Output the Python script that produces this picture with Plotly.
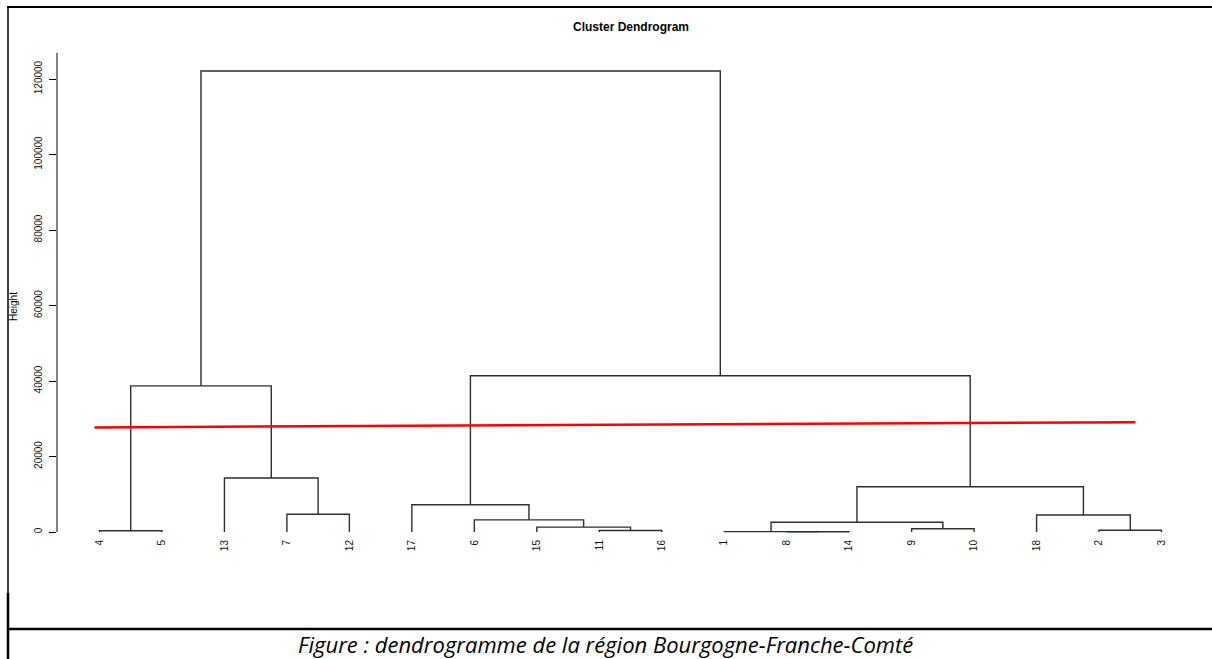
import plotly.graph_objects as go

# ---- data ----
leaf_labels = ["4", "5", "13", "7", "12", "17", "6", "15", "11", "16",
               "1", "8", "14", "9", "10", "18", "2", "3"]
# merges: (left child, right child, height); strings = leaves, ints = earlier merge index
merges = [
    ("4", "5", 350),        # 0
    ("7", "12", 4700),      # 1
    ("13", 1, 14300),       # 2
    (0, 2, 38700),          # 3
    ("11", "16", 400),      # 4
    ("15", 4, 1300),        # 5
    ("6", 5, 3200),         # 6
    ("17", 6, 7200),        # 7
    ("8", "14", 50),        # 8
    ("1", 8, 100),          # 9
    ("9", "10", 870),       # 10
    (9, 10, 2570),          # 11
    ("2", "3", 450),        # 12
    ("18", 12, 4500),       # 13
    (11, 13, 12000),        # 14
    (7, 14, 41400),         # 15
    (3, 15, 122100),        # 16
]
cut_line_x = [0.92, 17.58]
cut_line_y = [27700, 29100]
y_ticks = [0, 20000, 40000, 60000, 80000, 100000, 120000]

# ---- geometry from data ----
leaf_pos = {lab: i + 1 for i, lab in enumerate(leaf_labels)}
node_x, node_h = {}, {}


def child_info(c):
    if isinstance(c, str):
        return leaf_pos[c], 0.0
    return node_x[c], node_h[c]


seg_x, seg_y = [], []
for idx, (a, b, h) in enumerate(merges):
    xa, ha = child_info(a)
    xb, hb = child_info(b)
    seg_x += [xa, xa, xb, xb, None]
    seg_y += [ha, h, h, hb, None]
    node_x[idx] = (xa + xb) / 2
    node_h[idx] = h

W, H = 1212, 659
L_, R_, T_, B_ = 57, 8, 53, 122
plot_w = W - L_ - R_
plot_h = H - T_ - B_
px_per_unit = 453 / 120000
y_max = (532 - T_) / px_per_unit
y_min = -((H - B_) - 532) / px_per_unit


def px2paper_x(px):
    return (px - L_) / plot_w


def px2paper_y(py):
    return ((H - B_) - py) / plot_h


fig = go.Figure()
fig.add_trace(go.Scatter(x=seg_x, y=seg_y, mode="lines",
                         line=dict(color="#2e2e2e", width=1.4),
                         hoverinfo="skip", showlegend=False))
fig.add_trace(go.Scatter(x=cut_line_x, y=cut_line_y, mode="lines",
                         line=dict(color="#ff0000", width=2.5),
                         hoverinfo="skip", showlegend=False))

fig.update_layout(
    width=W, height=H,
    margin=dict(l=L_, r=R_, t=T_, b=B_, pad=0),
    paper_bgcolor="white", plot_bgcolor="white",
    font=dict(family="Liberation Sans, Arial, sans-serif", color="black", size=10),
    xaxis=dict(range=[0.32, 18.68], tickmode="array",
               tickvals=[leaf_pos[l] for l in leaf_labels], ticktext=leaf_labels,
               tickangle=-90, ticks="", showgrid=False, zeroline=False,
               showline=False, tickfont=dict(size=10, color="#111111")),
    yaxis=dict(range=[y_min, y_max], tickmode="array", tickvals=y_ticks,
               ticktext=[str(v) for v in y_ticks], tickangle=-90,
               ticks="outside", ticklen=7, tickcolor="black", tickwidth=1,
               ticklabelstandoff=3,
               showgrid=False, zeroline=False, showline=False,
               tickfont=dict(size=10, color="#111111")),
    showlegend=False,
)

# y axis line (from 0 to top)
fig.add_shape(type="line", xref="paper", yref="y", x0=0, x1=0, y0=0, y1=y_max,
              line=dict(color="black", width=1))

# frame lines
frame = [
    (7, 7, 1212, 7, 2),
    (8, 7, 8, 593, 1.5),
    (8, 593, 8, 659, 2.5),
    (8, 629, 1212, 629, 2.5),
]
for x0, y0, x1, y1, w in frame:
    fig.add_shape(type="line", xref="paper", yref="paper",
                  x0=px2paper_x(x0), y0=px2paper_y(y0),
                  x1=px2paper_x(x1), y1=px2paper_y(y1),
                  line=dict(color="black", width=w))

fig.add_annotation(text="<b>Cluster Dendrogram</b>", xref="paper", yref="paper",
                   x=px2paper_x(630.5), y=px2paper_y(27), showarrow=False,
                   xanchor="center", yanchor="middle",
                   font=dict(size=12, family="Liberation Sans, Arial, sans-serif"))
fig.add_annotation(text="Height", xref="paper", yref="paper",
                   x=px2paper_x(13), y=px2paper_y(306), showarrow=False,
                   textangle=-90, xanchor="center", yanchor="middle",
                   font=dict(size=10, family="Liberation Sans, Arial, sans-serif"))
fig.add_annotation(text="<i>Figure : dendrogramme de la région Bourgogne-Franche-Comté</i>",
                   xref="paper", yref="paper",
                   x=px2paper_x(605), y=px2paper_y(644), showarrow=False,
                   xanchor="center", yanchor="middle",
                   font=dict(size=22, family="Open Sans, sans-serif", color="black"))

fig.write_html("out.html")
